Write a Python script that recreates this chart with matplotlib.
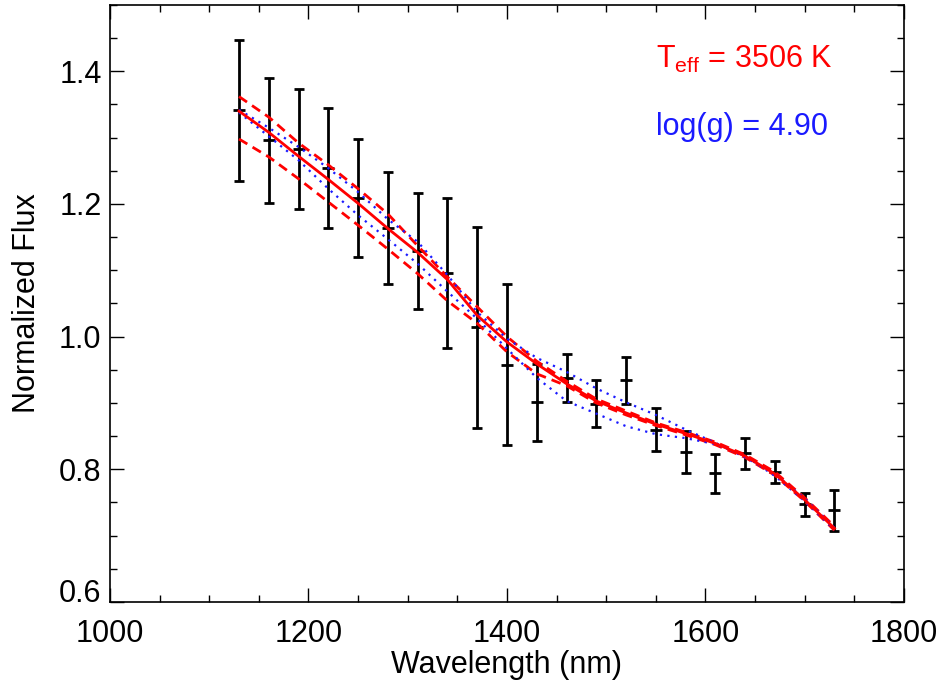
import matplotlib
matplotlib.use("Agg")
import matplotlib.pyplot as plt
import matplotlib.transforms as mtransforms
from matplotlib.ticker import MultipleLocator

plt.rcParams['font.family'] = ['Liberation Sans', 'DejaVu Sans']
plt.rcParams['mathtext.fontset'] = 'custom'
plt.rcParams['mathtext.rm'] = 'Liberation Sans'
plt.rcParams['mathtext.it'] = 'Liberation Sans:italic'

# Observed spectrum
wavelength = [1130, 1160, 1190, 1220, 1250, 1280, 1310, 1340, 1370, 1400, 1430,
              1460, 1490, 1520, 1550, 1580, 1610, 1640, 1670, 1700, 1730]
flux = [1.341, 1.296, 1.283, 1.254, 1.209, 1.164, 1.129, 1.096, 1.014, 0.958, 0.901,
        0.938, 0.899, 0.934, 0.860, 0.826, 0.794, 0.824, 0.796, 0.747, 0.738]
flux_err = [0.106, 0.094, 0.090, 0.090, 0.089, 0.084, 0.087, 0.113, 0.152, 0.122, 0.058,
            0.036, 0.035, 0.036, 0.033, 0.032, 0.029, 0.023, 0.016, 0.017, 0.031]

# Best-fit model
model_best = [1.340, 1.308, 1.272, 1.237, 1.201, 1.163, 1.127, 1.086, 1.032, 0.992, 0.959,
              0.929, 0.903, 0.885, 0.868, 0.854, 0.839, 0.820, 0.793, 0.754, 0.711]
# Teff +/- models (red dashed)
model_teff_hi = [1.362, 1.331, 1.292, 1.259, 1.223, 1.185, 1.137, 1.090, 1.045, 1.000, 0.963,
                 0.933, 0.906, 0.888, 0.870, 0.856, 0.841, 0.822, 0.796, 0.757, 0.714]
model_teff_lo = [1.298, 1.271, 1.238, 1.203, 1.168, 1.132, 1.095, 1.054, 1.020, 0.977, 0.944,
                 0.926, 0.900, 0.882, 0.866, 0.852, 0.837, 0.818, 0.791, 0.752, 0.708]
# log(g) +/- models (blue dotted)
model_logg_hi = [1.342, 1.315, 1.286, 1.254, 1.218, 1.177, 1.143, 1.093, 1.037, 0.997, 0.968,
                 0.947, 0.922, 0.901, 0.882, 0.860, 0.840, 0.818, 0.793, 0.756, 0.712]
model_logg_lo = [1.338, 1.302, 1.266, 1.223, 1.183, 1.147, 1.110, 1.068, 1.027, 0.982, 0.938,
                 0.903, 0.884, 0.865, 0.853, 0.847, 0.838, 0.820, 0.790, 0.752, 0.709]

y_ticks = [0.6, 0.8, 1.0, 1.2, 1.4]
y_tick_labels = ['0.6', '0.8', '1.0', '1.2', '1.4']
x_ticks = [1000, 1200, 1400, 1600, 1800]

teff_text = r'T$_{\mathrm{eff}}$ = 3506 K'
logg_text = 'log(g) = 4.90'

fig = plt.figure(figsize=(9.43, 6.85), dpi=100)
ax = fig.add_axes([0.1166, 0.1212, 0.842, 0.8715])

ax.errorbar(wavelength, flux, yerr=flux_err, fmt='_', color='black', ecolor='black',
            elinewidth=2.0, capsize=3.6, capthick=2.0, markersize=9, markeredgewidth=2.0,
            zorder=2)

ax.plot(wavelength, model_teff_hi, color='#ff0000', lw=2.0, ls=(0, (3.5, 2.2)), zorder=3)
ax.plot(wavelength, model_teff_lo, color='#ff0000', lw=2.0, ls=(0, (3.5, 2.2)), zorder=3)
ax.plot(wavelength, model_logg_hi, color='#1a1aff', lw=1.6, ls=(0, (1, 2.4)), zorder=4)
ax.plot(wavelength, model_logg_lo, color='#1a1aff', lw=1.6, ls=(0, (1, 2.4)), zorder=4)
ax.plot(wavelength, model_best, color='#ff0000', lw=2.0, zorder=5)

ax.set_xlim(1000, 1800)
ax.set_ylim(0.6, 1.5)
ax.set_xticks(x_ticks)
ax.xaxis.set_minor_locator(MultipleLocator(50))
ax.set_yticks(y_ticks)
ax.set_yticklabels(y_tick_labels)
ax.yaxis.set_minor_locator(MultipleLocator(0.05))

ax.tick_params(which='both', direction='in', top=True, right=True, width=1.0,
               labelsize=22, colors='black')
ax.tick_params(which='major', length=10)
ax.tick_params(which='minor', length=5)
ax.tick_params(axis='x', which='major', pad=12)
ax.tick_params(axis='y', which='major', pad=6)
for s in ax.spines.values():
    s.set_linewidth(1.2)

# lift the lowest y label so it sits above the x-axis line (as in the original)
fig.canvas.draw()
lbl0 = ax.get_yticklabels()[0]
lbl0.set_transform(lbl0.get_transform() +
                   mtransforms.ScaledTranslation(0, 11 / 100, fig.dpi_scale_trans))

ax.set_xlabel('Wavelength (nm)', fontsize=22, labelpad=1)
ax.set_ylabel('Normalized Flux', fontsize=22, labelpad=12)

ax.text(0.688, 0.894, teff_text, transform=ax.transAxes, color='#ff0000',
        fontsize=22, va='baseline', ha='left')
ax.text(0.688, 0.782, logg_text, transform=ax.transAxes, color='#1a1aff',
        fontsize=22, va='baseline', ha='left')

fig.savefig('out.png', dpi=100)
